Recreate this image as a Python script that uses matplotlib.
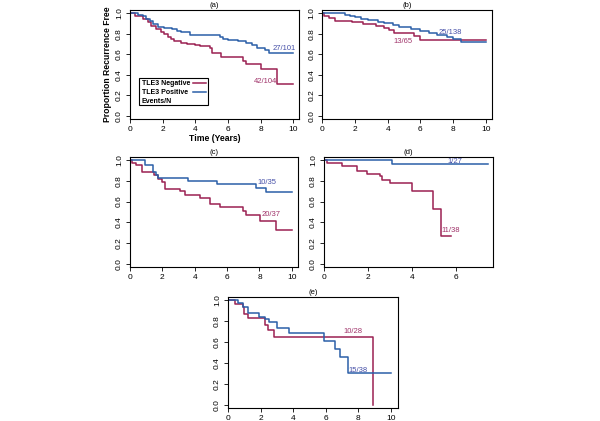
import matplotlib
matplotlib.use('Agg')
import matplotlib.pyplot as plt
from matplotlib.patches import Rectangle

plt.rcParams['font.family'] = ['Liberation Sans', 'DejaVu Sans']

RED = '#9b2152'
BLUE = '#2b5fa8'
RED_TXT = '#a0336a'
BLUE_TXT = '#4650a8'

# (a) step times / survival values
a_neg_t = [0.3, 0.8, 1.1, 1.3, 1.6, 1.9, 2.1, 2.3, 2.5, 2.7, 3.1, 3.5, 4.0, 4.3, 4.9, 5.0, 5.6, 6.9, 7.1, 8.0, 9.0]
a_neg_s = [0.97, 0.94, 0.91, 0.88, 0.85, 0.82, 0.80, 0.77, 0.745, 0.725, 0.71, 0.70, 0.69, 0.68, 0.665, 0.61, 0.57, 0.535, 0.505, 0.46, 0.31]
a_pos_t = [0.5, 0.8, 1.0, 1.2, 1.4, 1.7, 2.1, 2.6, 2.9, 3.15, 3.65, 5.5, 5.7, 6.0, 6.6, 7.1, 7.5, 7.8, 8.25, 8.5]
a_pos_s = [0.985, 0.97, 0.945, 0.92, 0.895, 0.87, 0.855, 0.845, 0.83, 0.815, 0.79, 0.765, 0.75, 0.735, 0.725, 0.71, 0.69, 0.66, 0.645, 0.615]
a_end = (10.0, 10.0)

# (b)
b_neg_t = [0.1, 0.4, 0.8, 1.8, 2.5, 3.3, 3.8, 4.1, 4.4, 5.6, 6.0]
b_neg_s = [0.975, 0.95, 0.925, 0.91, 0.895, 0.88, 0.86, 0.84, 0.805, 0.78, 0.735]
b_pos_t = [1.4, 1.7, 2.0, 2.4, 2.8, 3.4, 3.8, 4.3, 4.7, 5.4, 6.0, 6.5, 7.0, 7.6, 8.0, 8.5]
b_pos_s = [0.985, 0.97, 0.96, 0.945, 0.93, 0.915, 0.90, 0.885, 0.87, 0.85, 0.83, 0.81, 0.79, 0.765, 0.745, 0.72]
b_end = (10.0, 10.0)

# (c)
c_neg_t = [0.15, 0.35, 0.75, 1.5, 1.7, 1.95, 2.15, 3.1, 3.4, 4.3, 4.95, 5.55, 6.95, 7.15, 8.05, 9.05]
c_neg_s = [0.975, 0.95, 0.89, 0.86, 0.82, 0.79, 0.725, 0.70, 0.665, 0.635, 0.575, 0.545, 0.505, 0.47, 0.41, 0.33]
c_pos_t = [0.9, 1.45, 1.6, 1.7, 3.6, 5.4, 7.8, 8.4]
c_pos_s = [0.95, 0.89, 0.86, 0.83, 0.80, 0.77, 0.73, 0.69]
c_end = (10.0, 10.0)

# (d)
d_neg_t = [0.13, 0.8, 1.5, 1.95, 2.55, 2.65, 3.0, 4.0, 4.95, 5.3]
d_neg_s = [0.97, 0.945, 0.895, 0.87, 0.845, 0.81, 0.775, 0.705, 0.53, 0.265]
d_pos_t = [3.1]
d_pos_s = [0.963]
d_end = (5.78, 7.43)

# (e)
e_neg_t = [0.4, 0.9, 1.0, 1.2, 2.3, 2.45, 2.85, 8.9]
e_neg_s = [0.965, 0.93, 0.865, 0.825, 0.76, 0.71, 0.65, 0.0]
e_pos_t = [0.6, 0.95, 1.25, 1.9, 2.3, 2.5, 3.0, 3.75, 5.9, 6.55, 6.9, 7.4]
e_pos_s = [0.975, 0.935, 0.875, 0.84, 0.815, 0.79, 0.73, 0.685, 0.61, 0.535, 0.455, 0.305]
e_end = (8.9, 10.0)

# events/N labels: (text, x, y)
a_lab = [('42/104', 8.3, 0.34), ('27/101', 9.45, 0.66)]
b_lab = [('13/65', 4.95, 0.72), ('25/138', 7.8, 0.81)]
c_lab = [('20/37', 8.7, 0.48), ('10/35', 8.45, 0.78)]
d_lab = [('11/38', 5.75, 0.32), ('1/27', 5.95, 0.99)]
e_lab = [('10/28', 7.7, 0.695), ('15/38', 8.0, 0.33)]

legend_labels = ['TLE3 Negative', 'TLE3 Positive', 'Events/N']

fig = plt.figure(figsize=(6.0, 4.21), dpi=100)

panels = [
    ('(a)', [0.2167, 0.717, 0.2817, 0.259], a_neg_t, a_neg_s, a_pos_t, a_pos_s, a_end, a_lab, 10.35, [0, 2, 4, 6, 8, 10]),
    ('(b)', [0.537, 0.717, 0.283, 0.259], b_neg_t, b_neg_s, b_pos_t, b_pos_s, b_end, b_lab, 10.38, [0, 2, 4, 6, 8, 10]),
    ('(c)', [0.2167, 0.366, 0.28, 0.261], c_neg_t, c_neg_s, c_pos_t, c_pos_s, c_end, c_lab, 10.38, [0, 2, 4, 6, 8, 10]),
    ('(d)', [0.54, 0.366, 0.282, 0.261], d_neg_t, d_neg_s, d_pos_t, d_pos_s, d_end, d_lab, 7.68, [0, 2, 4, 6]),
    ('(e)', [0.38, 0.031, 0.283, 0.264], e_neg_t, e_neg_s, e_pos_t, e_pos_s, e_end, e_lab, 10.43, [0, 2, 4, 6, 8, 10]),
]

axes = []
for title, pos, nt, ns, pt, ps, end, labs, xmax, xt in panels:
    ax = fig.add_axes(pos)
    ax.step([0] + nt + [end[0]], [1.0] + ns + [ns[-1]], where='post', color=RED, lw=1.1)
    ax.step([0] + pt + [end[1]], [1.0] + ps + [ps[-1]], where='post', color=BLUE, lw=1.1)
    ax.text(labs[0][1], labs[0][2], labs[0][0], color=RED_TXT, fontsize=5.5, ha='center', va='center')
    ax.text(labs[1][1], labs[1][2], labs[1][0], color=BLUE_TXT, fontsize=5.5, ha='center', va='center')
    ax.set_xlim(0, xmax)
    ax.set_ylim(-0.03, 1.03)
    ax.set_xticks(xt)
    ax.set_yticks([0.0, 0.2, 0.4, 0.6, 0.8, 1.0])
    ax.set_yticklabels(['0.0', '0.2', '0.4', '0.6', '0.8', '1.0'], rotation=90, va='center')
    ax.tick_params(labelsize=6, length=3, width=0.6, pad=2)
    for sp in ax.spines.values():
        sp.set_linewidth(0.8)
    ax.set_title(title, fontsize=5.5, pad=2)
    axes.append(ax)

ax = axes[0]
ax.set_ylabel('Proportion Recurrence Free', fontsize=6.2, fontweight='bold', labelpad=3)
ax.set_xlabel('Time (Years)', fontsize=6.2, fontweight='bold', labelpad=1)

# legend box: text first, line after, text left-aligned
ax.add_patch(Rectangle((0.053, 0.128), 0.41, 0.248, transform=ax.transAxes,
                       facecolor='white', edgecolor='black', lw=0.8, zorder=5))
for i, lab in enumerate(legend_labels):
    yy = 0.33 - i * 0.083
    ax.text(0.068, yy, lab, transform=ax.transAxes, fontsize=5.0, fontweight='bold',
            ha='left', va='center', zorder=6)
for i, col in enumerate([RED, BLUE]):
    yy = 0.33 - i * 0.083
    ax.plot([0.37, 0.452], [yy, yy], transform=ax.transAxes, color=col, lw=1.1, zorder=6)

fig.savefig('out.png', dpi=100)
